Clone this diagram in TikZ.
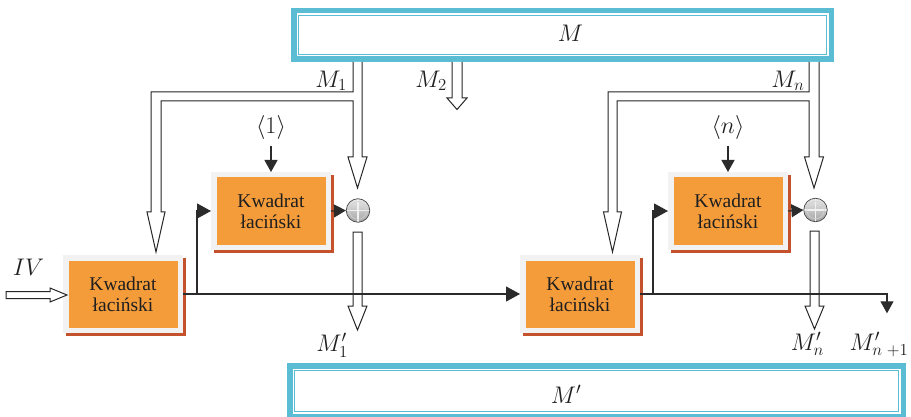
\documentclass[tikz,border=0pt]{standalone}
\usepackage{fix-cm}
\usepackage{fontspec}
\newfontfamily\tnr{Liberation Serif}
\usetikzlibrary{arrows.meta,calc}
\pgfdeclarelayer{background}
\pgfsetlayers{background,main}
\definecolor{cyanc}{HTML}{5BBDD4}
\definecolor{orangec}{HTML}{F49B3A}
\definecolor{shadowc}{HTML}{C4522C}
\definecolor{framec}{HTML}{F2F2F2}
\definecolor{linec}{HTML}{2B2B2B}
\tikzset{
  kbox/.style={rectangle, minimum width=120pt, minimum height=78pt, inner sep=0pt, outer sep=0pt,
    fill=framec, align=center, font=\tnr\fontsize{19.5}{21}\selectfont, text=black!88,
    path picture={\fill[orangec] ([shift={(5.5pt,5.5pt)}]path picture bounding box.south west)
      rectangle ([shift={(-5.5pt,-5.5pt)}]path picture bounding box.north east);}},
  cbox/.style={rectangle, inner sep=0pt, outer sep=0pt, fill=cyanc,
    path picture={\fill[white] ([shift={(5.5pt,5.5pt)}]path picture bounding box.south west)
      rectangle ([shift={(-5.5pt,-5.5pt)}]path picture bounding box.north east);
      \draw[cyanc, line width=1.4pt] ([shift={(7.6pt,7.6pt)}]path picture bounding box.south west)
      rectangle ([shift={(-7.6pt,-7.6pt)}]path picture bounding box.north east);}},
  conn/.style={draw=linec, line width=1.2pt},
  tipL/.style={-{Triangle[length=14pt,width=15pt]}},
  tipS/.style={-{Triangle[length=12pt,width=13pt]}},
  blk/.style={draw=black!85, fill=white, line width=1pt, line join=miter},
  mlab/.style={font=\fontsize{24}{28}\selectfont, inner sep=0pt, text=black!88},
  xorc/.style={circle, minimum size=23.5pt, inner sep=0pt, draw=gray!55!black, line width=0.7pt,
    top color=gray!18, bottom color=gray!72,
    path picture={\draw[gray!12, line width=1.1pt]
      (path picture bounding box.north) -- (path picture bounding box.south)
      (path picture bounding box.west) -- (path picture bounding box.east);
      \draw[gray!35, line width=0.6pt] (path picture bounding box.center) circle (8.8pt);}}
}
\begin{document}
\begin{tikzpicture}[x=1pt,y=-1pt]
\useasboundingbox (0,0) rectangle (911,417);
\begin{pgfonlayer}{background}
\fill[white] (0,0) rectangle (911,417);
\end{pgfonlayer}
\clip (0,0) rectangle (911,417);

% memory blocks
\node[cbox, minimum width=543pt, minimum height=54pt] (Mtop) at (562.5,35) {};
\node[cbox, minimum width=619pt, minimum height=56pt] (Mbot) at (596.5,391) {};
\node[mlab, anchor=base] (lM) at (570.5,41.7) {$M$};
\node[mlab, anchor=base] (lMp) at (566,403) {$M'$};

% latin square boxes
\node[kbox] (kA) at (123,294) {Kwadrat\\łaciński};
\node[kbox] (kB) at (580,294) {Kwadrat\\łaciński};
\node[kbox] (k1) at (271,211) {Kwadrat\\łaciński};
\node[kbox] (k2) at (728,211) {Kwadrat\\łaciński};
\begin{pgfonlayer}{background}
\foreach \b in {kA,kB,k1,k2}{
  \fill[shadowc] ([shift={(2.7pt,-3pt)}]\b.south west) rectangle ([shift={(2.7pt,-3pt)}]\b.north east);
}
\end{pgfonlayer}

% xor
\node[xorc] (x1) at (358,210.5) {};
\node[xorc] (x2) at (815.5,210) {};

% block arrows
\draw[blk] (353,62) -- (353,92) -- (151,92) -- (151,212) -- (147,212) -- (156,252) -- (165,212)
  -- (161,212) -- (161,101) -- (353,101) -- (353,157) -- (348,157) -- (357.5,188) -- (367,157)
  -- (362,157) -- (362,62);
\draw[blk] (809,62) -- (809,92) -- (608,92) -- (608,212) -- (603.5,212) -- (612.5,252) -- (621.5,212)
  -- (617,212) -- (617,101) -- (809,101) -- (809,157) -- (804.5,157) -- (814,188) -- (823.5,157)
  -- (819,157) -- (819,62);
\draw[blk] (452,62) -- (452,98) -- (447,98) -- (457,109.5) -- (467,98) -- (462,98) -- (462,62);
\draw[blk] (353,232) -- (353,306) -- (348,306) -- (357.5,330) -- (367,306) -- (362,306) -- (362,232) -- cycle;
\draw[blk] (810,231) -- (810,306) -- (805,306) -- (814.5,329) -- (824,306) -- (819,306) -- (819,231) -- cycle;
\draw[blk] (6,291.5) -- (50,291.5) -- (50,288) -- (67,295) -- (50,302) -- (50,298.5) -- (6,298.5) -- cycle;

% labels
\node[mlab, anchor=base] (lM1) at (331,87.3) {$M_1$};
\node[mlab, anchor=base] (lM2) at (431,87.3) {$M_2$};
\node[mlab, anchor=base] (lMn) at (788,87.3) {$M_n$};
\node[mlab, anchor=base] (lM1p) at (332,351.7) {$M'_1$};
\node[mlab, anchor=base] (lMnp) at (807.5,350) {$M'_n$};
\node[mlab, anchor=base] (lMn1p) at (879,350) {$M'_{n\;+1}$};
\node[mlab, anchor=base] (lIV) at (28.5,275) {$IV$};
\node[mlab, anchor=base] (l1) at (271,133.5) {$\langle 1\rangle$};
\node[mlab, anchor=base] (ln) at (728,133.5) {$\langle n\rangle$};

% connectors
\coordinate (j1) at (197,294);
\coordinate (j2) at (653,294);
\coordinate (endt) at (887,313.3);
\draw[conn,tipL] (kA.east) -- (kB.west);
\draw[conn,tipL] (j1) |- (k1.west);
\draw[conn,tipL] (j2) |- (k2.west);
\draw[conn,tipS] (kB.east) -| (endt);
\draw[conn,tipS] (k1.east) -- (x1.west);
\draw[conn,tipS] (k2.east) -- (x2.west);
\draw[conn,tipS] ([yshift=-6pt]l1.south) -- (k1.north);
\draw[conn,tipS] ([yshift=-6pt]ln.south) -- (k2.north);
\end{tikzpicture}
\end{document}
